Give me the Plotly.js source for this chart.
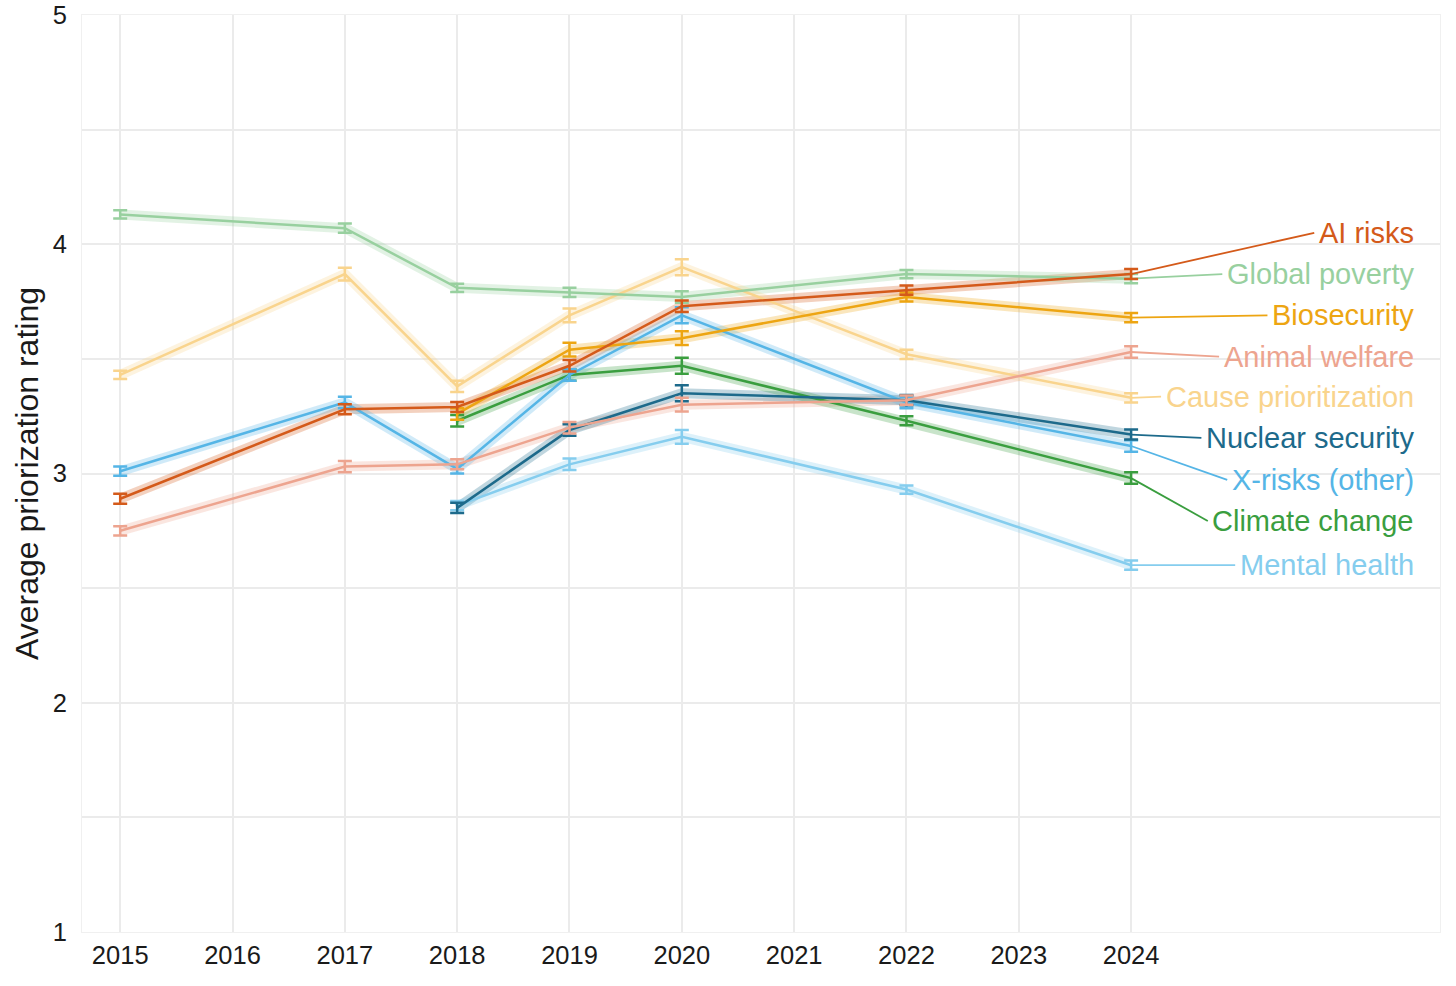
<!DOCTYPE html>
<html>
<head>
<meta charset="utf-8">
<script src="https://cdn.plot.ly/plotly-3.0.1.min.js"></script>
<style>
  html, body { margin: 0; padding: 0; background: #fff; }
  #chart { width: 1456px; height: 986px; }
</style>
</head>
<body>
<div id="chart"></div>
<script>
// Survey years (2016, 2021, 2023 have no data points)
const years = [2015, 2017, 2018, 2019, 2020, 2022, 2024];
const yearTicks = [2015, 2016, 2017, 2018, 2019, 2020, 2021, 2022, 2023, 2024];

// Average priorization rating per cause area
const aiRisks       = [2.89, 3.28, 3.29, 3.47, 3.73, 3.80, 3.87];
const globalPoverty = [4.13, 4.07, 3.81, 3.79, 3.77, 3.87, 3.85];
const biosecurity   = [null, null, 3.26, 3.54, 3.59, 3.77, 3.68];
const animalWelfare = [2.75, 3.03, 3.04, 3.20, 3.30, 3.32, 3.53];
const causePrio     = [3.43, 3.87, 3.38, 3.69, 3.90, 3.52, 3.33];
const nuclear       = [null, null, 2.85, 3.19, 3.35, 3.32, 3.17];
const xRisks        = [3.01, 3.31, 3.02, 3.43, 3.69, 3.31, 3.12];
const climate       = [null, null, 3.23, 3.43, 3.47, 3.23, 2.98];
const mentalHealth  = [null, null, 2.86, 3.04, 3.16, 2.93, 2.60];

// Standard errors (half-length of the error bars)
const aiRisksErr       = [0.022, 0.022, 0.022, 0.025, 0.025, 0.02, 0.022];
const globalPovertyErr = [0.018, 0.02, 0.018, 0.02, 0.025, 0.018, 0.02];
const biosecurityErr   = [0, 0, 0.025, 0.03, 0.03, 0.02, 0.02];
const animalWelfareErr = [0.02, 0.025, 0.022, 0.025, 0.03, 0.02, 0.025];
const causePrioErr     = [0.018, 0.028, 0.025, 0.03, 0.035, 0.02, 0.02];
const nuclearErr       = [0, 0, 0.022, 0.025, 0.035, 0.022, 0.022];
const xRisksErr        = [0.02, 0.025, 0.02, 0.025, 0.035, 0.025, 0.025];
const climateErr       = [0, 0, 0.025, 0.025, 0.035, 0.02, 0.025];
const mentalHealthErr  = [0, 0, 0.02, 0.025, 0.03, 0.018, 0.02];

// Direct labels on the right, at these rating heights
const labelNames = ['AI risks', 'Global poverty', 'Biosecurity', 'Animal welfare',
  'Cause prioritization', 'Nuclear security', 'X-risks (other)', 'Climate change', 'Mental health'];
const labelHeights = [4.05, 3.87, 3.69, 3.51, 3.335, 3.155, 2.972, 2.793, 2.60];

const series = [
  { y: aiRisks,       err: aiRisksErr,       color: '#d45a1a' },
  { y: globalPoverty, err: globalPovertyErr, color: '#98d09f' },
  { y: biosecurity,   err: biosecurityErr,   color: '#eda512' },
  { y: animalWelfare, err: animalWelfareErr, color: '#eda48f' },
  { y: causePrio,     err: causePrioErr,     color: '#f9d48d' },
  { y: nuclear,       err: nuclearErr,       color: '#1d6a8b' },
  { y: xRisks,        err: xRisksErr,        color: '#55b5e6' },
  { y: climate,       err: climateErr,       color: '#3a9e3f' },
  { y: mentalHealth,  err: mentalHealthErr,  color: '#85cdee' }
];
series.forEach((s, i) => { s.name = labelNames[i]; s.labelY = labelHeights[i]; });

const font = 'Liberation Sans, Arial, sans-serif';
const labelSize = 29;
const W = 1456, H = 986;
const margin = { l: 82, r: 16, t: 15, b: 54 };
const xRange = [2014.66, 2026.75];
const labelRight = 2026.53;

// px -> data conversion along x, to end each leader line just before its label
const pxPerYear = (W - margin.l - margin.r) / (xRange[1] - xRange[0]);
const ctx = document.createElement('canvas').getContext('2d');
ctx.font = labelSize + 'px "Liberation Sans"';
function labelLeft(text) {
  return labelRight - (ctx.measureText(text).width + 6) / pxPerYear;
}

const traces = [];
// confidence ribbons first, so lines sit on top
series.forEach(s => {
  traces.push({
    x: years, y: s.y, type: 'scatter', mode: 'lines',
    line: { color: s.color, width: 10 }, opacity: 0.28,
    hoverinfo: 'skip', showlegend: false
  });
});
series.slice().reverse().forEach(s => {
  traces.push({
    x: years, y: s.y, type: 'scatter', mode: 'lines',
    name: s.name,
    line: { color: s.color, width: 2.5 },
    error_y: { type: 'data', array: s.err, color: s.color, thickness: 2.5, width: 7 },
    showlegend: false
  });
  // leader line from the 2024 point to its label
  traces.push({
    x: [years[years.length - 1], labelLeft(s.name)],
    y: [s.y[s.y.length - 1], s.labelY],
    type: 'scatter', mode: 'lines',
    line: { color: s.color, width: 1.8 },
    hoverinfo: 'skip', showlegend: false
  });
});

const annotations = series.map(s => ({
  x: labelRight, y: s.labelY, xref: 'x', yref: 'y',
  xanchor: 'right', yanchor: 'middle', showarrow: false,
  borderpad: 0,
  text: s.name,
  font: { family: font, size: labelSize, color: s.color }
}));

const layout = {
  width: W, height: H,
  margin: margin,
  paper_bgcolor: '#ffffff', plot_bgcolor: '#ffffff',
  showlegend: false,
  font: { family: font, color: '#1a1a1a' },
  xaxis: {
    range: xRange,
    tickvals: yearTicks, ticktext: yearTicks.map(String),
    showgrid: true, gridcolor: '#ebebeb', gridwidth: 2,
    zeroline: false, ticks: '',
    showline: true, mirror: true, linecolor: '#f0f0f0', linewidth: 1,
    tickfont: { family: font, size: 25.5, color: '#1a1a1a' }
  },
  yaxis: {
    range: [1, 5],
    tickvals: [1, 2, 3, 4, 5],
    showgrid: true, gridcolor: '#ebebeb', gridwidth: 2,
    minor: { dtick: 0.5, showgrid: true, gridcolor: '#ebebeb', gridwidth: 2 },
    zeroline: false, ticks: '', ticklabelstandoff: 9,
    showline: true, mirror: true, linecolor: '#f0f0f0', linewidth: 1,
    tickfont: { family: font, size: 25.5, color: '#1a1a1a' },
    title: { text: 'Average priorization rating', standoff: 4,
             font: { family: font, size: 32, color: '#1a1a1a' } }
  },
  annotations: annotations
};

Plotly.newPlot('chart', traces, layout, { staticPlot: true });
</script>
</body>
</html>
